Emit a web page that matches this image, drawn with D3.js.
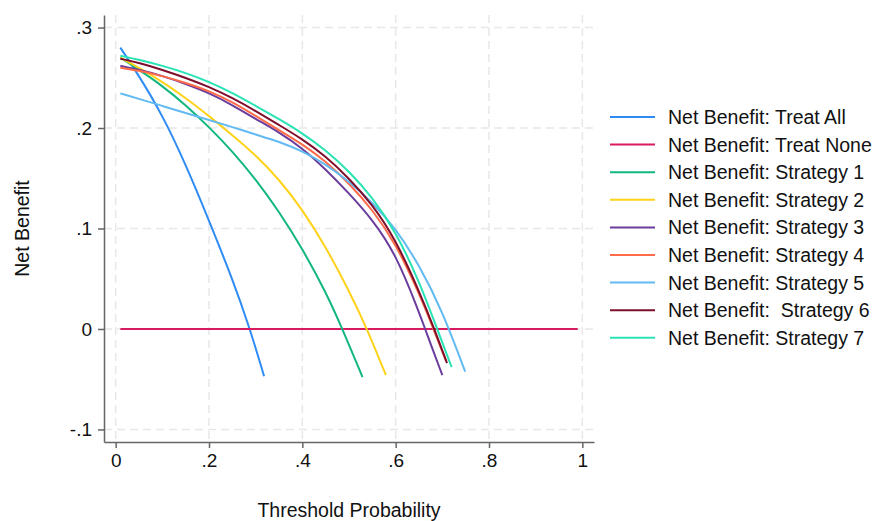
<!DOCTYPE html>
<html>
<head>
<meta charset="utf-8">
<script src="https://cdn.jsdelivr.net/npm/d3@7.9.0/dist/d3.min.js"></script>
<style>
  html, body { margin: 0; padding: 0; background: #fff; }
  svg { display: block; font-family: "Liberation Sans", Arial, Helvetica, sans-serif; }
</style>
</head>
<body>
<svg id="chart" width="877" height="521"></svg>
<script>
// values: [threshold, net benefit]
const labels = [
  "Net Benefit: Treat All",
  "Net Benefit: Treat None",
  "Net Benefit: Strategy 1",
  "Net Benefit: Strategy 2",
  "Net Benefit: Strategy 3",
  "Net Benefit: Strategy 4",
  "Net Benefit: Strategy 5",
  "Net Benefit:  Strategy 6",
  "Net Benefit: Strategy 7"
];
const colors = ["#2f8cf5", "#d81b60", "#12b77f", "#ffd21a", "#6a3c9c", "#ff6b48", "#62baf2", "#7e0f2c", "#2ae3b4"];

const treatAll = [[0.01, 0.280], [0.05, 0.252], [0.1, 0.213], [0.15, 0.164], [0.2, 0.108], [0.25, 0.050], [0.288, 0.0], [0.318, -0.047]];
const treatNone = [[0.01, 0], [0.99, 0]];
const strategy1 = [[0.01, 0.270], [0.05, 0.258], [0.1, 0.242], [0.15, 0.223], [0.2, 0.201], [0.25, 0.177], [0.3, 0.149], [0.35, 0.117], [0.4, 0.080], [0.45, 0.037], [0.486, 0.0], [0.529, -0.048]];
const strategy2 = [[0.01, 0.270], [0.05, 0.260], [0.1, 0.246], [0.15, 0.230], [0.2, 0.212], [0.25, 0.193], [0.3, 0.173], [0.35, 0.149], [0.4, 0.119], [0.45, 0.082], [0.5, 0.038], [0.539, 0.0], [0.579, -0.046]];
const strategy3 = [[0.01, 0.262], [0.05, 0.258], [0.1, 0.252], [0.15, 0.244], [0.2, 0.235], [0.25, 0.223], [0.3, 0.209], [0.35, 0.196], [0.4, 0.180], [0.45, 0.159], [0.5, 0.135], [0.55, 0.109], [0.6, 0.075], [0.65, 0.017], [0.663, 0.0], [0.70, -0.046]];
const strategy4 = [[0.01, 0.260], [0.05, 0.257], [0.1, 0.252], [0.15, 0.245], [0.2, 0.237], [0.25, 0.226], [0.3, 0.212], [0.35, 0.198], [0.4, 0.184], [0.45, 0.167], [0.5, 0.145], [0.55, 0.119], [0.6, 0.085], [0.65, 0.036], [0.681, 0.0], [0.708, -0.032]];
const strategy5 = [[0.01, 0.2345], [0.05, 0.229], [0.1, 0.222], [0.15, 0.215], [0.2, 0.208], [0.25, 0.201], [0.3, 0.1935], [0.35, 0.1865], [0.4, 0.177], [0.45, 0.164], [0.5, 0.147], [0.55, 0.126], [0.6, 0.100], [0.65, 0.064], [0.7, 0.018], [0.749, -0.0425]];
const strategy6 = [[0.01, 0.269], [0.05, 0.265], [0.1, 0.258], [0.15, 0.250], [0.2, 0.241], [0.25, 0.230], [0.3, 0.217], [0.35, 0.203], [0.4, 0.189], [0.45, 0.172], [0.5, 0.150], [0.55, 0.124], [0.6, 0.089], [0.65, 0.038], [0.683, 0.0], [0.71, -0.034]];
const strategy7 = [[0.01, 0.272], [0.05, 0.268], [0.1, 0.262], [0.15, 0.255], [0.2, 0.246], [0.25, 0.235], [0.3, 0.222], [0.35, 0.209], [0.4, 0.195], [0.45, 0.178], [0.5, 0.157], [0.55, 0.131], [0.6, 0.097], [0.65, 0.048], [0.689, 0.0], [0.72, -0.038]];

const xTicks = [0, 0.2, 0.4, 0.6, 0.8, 1];
const yTicks = [-0.1, 0, 0.1, 0.2, 0.3];

const series = [treatAll, treatNone, strategy1, strategy2, strategy3, strategy4, strategy5, strategy6, strategy7];

const svg = d3.select("#chart");
const plotL = 104, plotR = 594, plotT = 15, plotB = 442;

const x = d3.scaleLinear().domain([-0.025, 1.025]).range([plotL, plotR]);
const y = d3.scaleLinear().domain([-0.1125, 0.3125]).range([plotB, plotT]);

// stata-style tick labels: .2 instead of 0.2, plain hyphen for minus
const fmt = d => d === 0 ? "0" : String(+d.toFixed(2)).replace(/^(-?)0\./, "$1.");

// grid
const grid = svg.append("g").attr("stroke", "#e8e8e8").attr("stroke-width", 1.5).attr("stroke-dasharray", "8,5");
grid.selectAll(".gx").data(xTicks).join("line")
  .attr("x1", d => x(d)).attr("x2", d => x(d))
  .attr("y1", plotT).attr("y2", plotB);
grid.selectAll(".gy").data(yTicks).join("line")
  .attr("x1", plotL).attr("x2", plotR)
  .attr("y1", d => y(d)).attr("y2", d => y(d));

// axes
const xAxis = svg.append("g")
  .attr("transform", `translate(0,${plotB})`)
  .call(d3.axisBottom(x).tickValues(xTicks).tickFormat(fmt).tickSize(6).tickSizeOuter(0).tickPadding(6));
const yAxis = svg.append("g")
  .attr("transform", `translate(${plotL},0)`)
  .call(d3.axisLeft(y).tickValues(yTicks).tickFormat(fmt).tickSize(6).tickSizeOuter(0).tickPadding(6));

[xAxis, yAxis].forEach(a => {
  a.select(".domain").attr("stroke", "#666").attr("stroke-width", 1.5);
  a.selectAll(".tick line").attr("stroke", "#666").attr("stroke-width", 1.5);
  a.selectAll(".tick text").attr("fill", "#111").style("font-size", "19px")
    .style("font-family", "'Liberation Sans', Arial, sans-serif");
});

// curves
const line = d3.line()
  .x(d => x(d[0]))
  .y(d => y(d[1]))
  .curve(d3.curveBasis);

svg.append("g").selectAll("path")
  .data(series)
  .join("path")
  .attr("d", line)
  .attr("fill", "none")
  .attr("stroke", (d, i) => colors[i])
  .attr("stroke-width", 2);

// axis titles
svg.append("text")
  .attr("x", (plotL + plotR) / 2).attr("y", 517)
  .attr("text-anchor", "middle")
  .style("font-size", "19.5px").attr("fill", "#111")
  .text("Threshold Probability");

svg.append("text")
  .attr("transform", `translate(29,${(plotT + plotB) / 2}) rotate(-90)`)
  .attr("text-anchor", "middle")
  .style("font-size", "19.5px").attr("fill", "#111")
  .text("Net Benefit");

// legend
const legend = svg.append("g").attr("transform", "translate(610,117)");
const rows = legend.selectAll("g").data(labels).join("g")
  .attr("transform", (d, i) => `translate(0,${i * 27.6})`);
rows.append("line")
  .attr("x1", 0).attr("x2", 45)
  .attr("stroke", (d, i) => colors[i]).attr("stroke-width", 2);
rows.append("text")
  .attr("x", 58).attr("dy", "0.36em")
  .style("font-size", "19.5px").style("white-space", "pre").attr("fill", "#111")
  .text(d => d);
</script>
</body>
</html>
